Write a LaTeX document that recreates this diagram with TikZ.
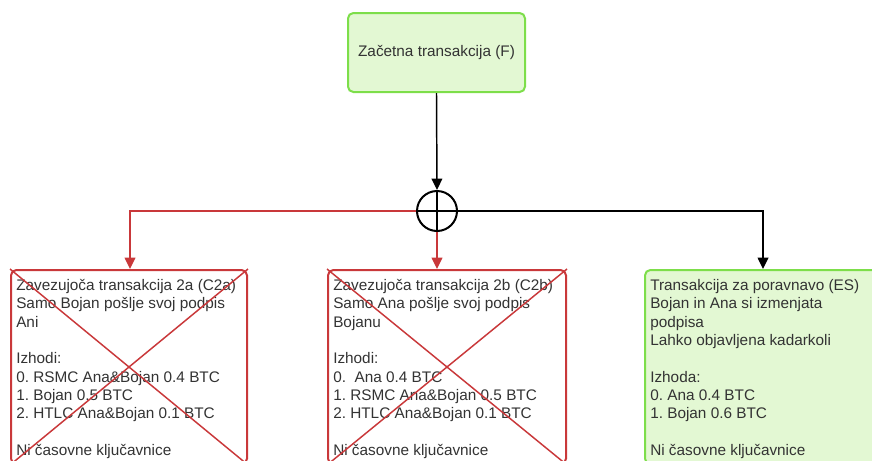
\documentclass[tikz,border=0pt]{standalone}
\usepackage{fontspec}
\setmainfont{Liberation Sans}
\usetikzlibrary{arrows.meta,calc}
\definecolor{okgreen}{HTML}{7DDE4A}
\definecolor{okfill}{HTML}{E3F8D3}
\definecolor{badred}{HTML}{C9383A}
\definecolor{txt}{HTML}{333333}
\frenchspacing
\begin{document}
\begin{tikzpicture}[x=0.75pt,y=-0.75pt,
  txtstyle/.style={text=txt,font=\fontsize{11.5}{13.75}\selectfont},
  goodbox/.style={draw=okgreen,fill=okfill,line width=1.5pt,rounded corners=4pt,inner sep=0pt},
  badbox/.style={draw=badred,fill=white,line width=1.5pt,rounded corners=4pt,inner sep=0pt},
  boxtext/.style={txtstyle,anchor=north west,align=left,inner sep=0pt},
  tip/.style={-{Triangle[length=8.5pt,width=8pt]}},
  blackline/.style={draw=black,line width=1.1pt},
  redline/.style={draw=badred,line width=1.1pt},
  cross/.style={draw=badred,line width=1.1pt}]
\useasboundingbox (0,0) rectangle (872,461);
\clip (0,0) rectangle (872,461);

% funding transaction
\node[goodbox,minimum width=132.75pt,minimum height=59.25pt,txtstyle] (F) at (436.5,52.5) {Začetna transakcija (F)};

% branching point
\node[circle,draw=black,line width=1.5pt,minimum size=30pt,inner sep=0pt] (X) at (437,211) {};
\draw[line width=1.1pt] (X.north) -- (X.south) (X.west) -- (X.east);

% commitment and settlement transactions
\node[badbox,minimum width=177pt,minimum height=145.5pt] (A) at (129,367) {};
\node[badbox,minimum width=178.5pt,minimum height=145.5pt] (B) at (447,367) {};
\node[goodbox,minimum width=177pt,minimum height=145.5pt] (S) at (763,367) {};

\node[boxtext] (At) at ($(A.north west)+(6,10)$) {Zavezujoča transakcija 2a (C2a)\\Samo Bojan pošlje svoj podpis\\Ani\\\mbox{}\\Izhodi:\\0. RSMC Ana\&Bojan 0.4 BTC\\1. Bojan 0.5 BTC\\2. HTLC Ana\&Bojan 0.1 BTC\\\mbox{}\\Ni časovne ključavnice};
\node[boxtext] (Bt) at ($(B.north west)+(6,10)$) {Zavezujoča transakcija 2b (C2b)\\Samo Ana pošlje svoj podpis\\Bojanu\\\mbox{}\\Izhodi:\\0.\ \ Ana 0.4 BTC\\1. RSMC Ana\&Bojan 0.5 BTC\\2. HTLC Ana\&Bojan 0.1 BTC\\\mbox{}\\Ni časovne ključavnice};
\node[boxtext] (St) at ($(S.north west)+(6,10)$) {Transakcija za poravnavo (ES)\\Bojan in Ana si izmenjata\\podpisa\\Lahko objavljena kadarkoli\\\mbox{}\\Izhoda:\\0. Ana 0.4 BTC\\1. Bojan 0.6 BTC\\\mbox{}\\Ni časovne ključavnice};

% invalidated transactions are crossed out
\draw[cross] (A.north west) -- (A.south east) (A.north east) -- (A.south west);
\draw[cross] (B.north west) -- (B.south east) (B.north east) -- (B.south west);

% connectors
\draw[blackline,tip] (F.south) -- (X.north);
\draw[redline,tip] (X.west) -| (A.north -| 130,0);
\draw[redline,tip] (X.south) -- (X.south |- B.north);
\draw[blackline,tip] (X.east) -| (S.north);
\end{tikzpicture}
\end{document}
